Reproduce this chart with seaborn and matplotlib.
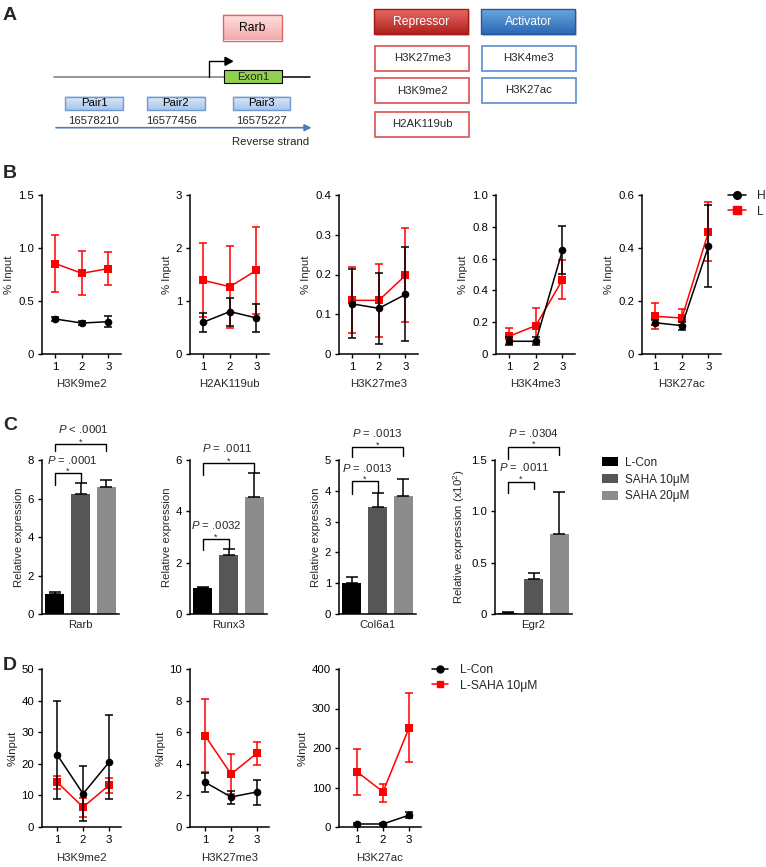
import matplotlib
matplotlib.use("Agg")
import matplotlib.pyplot as plt
import numpy as np
import pandas as pd
import seaborn as sns
from matplotlib.patches import Rectangle, Patch, Polygon
from matplotlib.lines import Line2D
from matplotlib.colors import LinearSegmentedColormap

# ---------------- data ----------------
REGIONS = [1, 2, 3]

B_MARKS = ["H3K9me2", "H2AK119ub", "H3K27me3", "H3K4me3", "H3K27ac"]
B_GROUPS = ["H", "L"]
B_H_MEAN = [[0.330, 0.292, 0.305], [0.60, 0.80, 0.68], [0.126, 0.115, 0.150],
            [0.080, 0.080, 0.653], [0.118, 0.107, 0.407]]
B_H_LOW = [[0.314, 0.270, 0.254], [0.41, 0.53, 0.41], [0.041, 0.025, 0.032],
           [0.055, 0.055, 0.505], [0.108, 0.090, 0.254]]
B_H_HIGH = [[0.346, 0.310, 0.355], [0.78, 1.05, 0.95], [0.215, 0.203, 0.269],
            [0.105, 0.105, 0.806], [0.130, 0.120, 0.562]]
B_L_MEAN = [[0.853, 0.761, 0.806], [1.39, 1.27, 1.58], [0.135, 0.135, 0.198],
            [0.112, 0.179, 0.467], [0.142, 0.136, 0.461]]
B_L_LOW = [[0.584, 0.552, 0.650], [0.70, 0.50, 0.75], [0.052, 0.042, 0.080],
           [0.062, 0.070, 0.347], [0.095, 0.108, 0.352]]
B_L_HIGH = [[1.120, 0.970, 0.964], [2.09, 2.04, 2.39], [0.218, 0.227, 0.316],
            [0.162, 0.288, 0.589], [0.193, 0.168, 0.572]]
B_YTICKS = [[0, 0.5, 1.0, 1.5], [0, 1, 2, 3], [0, 0.1, 0.2, 0.3, 0.4],
            [0, 0.2, 0.4, 0.6, 0.8, 1.0], [0, 0.2, 0.4, 0.6]]
B_YTICKLABELS = [["0", "0.5", "1.0", "1.5"], ["0", "1", "2", "3"],
                 ["0", "0.1", "0.2", "0.3", "0.4"],
                 ["0", "0.2", "0.4", "0.6", "0.8", "1.0"], ["0", "0.2", "0.4", "0.6"]]

C_GENES = ["Rarb", "Runx3", "Col6a1", "Egr2"]
C_GROUPS = ["L-Con", "SAHA 10μM", "SAHA 20μM"]
C_MEAN = [[1.03, 6.25, 6.61], [1.02, 2.30, 4.56], [1.01, 3.49, 3.82], [0.01, 0.34, 0.78]]
C_SD = [[0.12, 0.57, 0.33], [0.04, 0.24, 0.95], [0.20, 0.45, 0.56], [0.005, 0.06, 0.41]]
C_YTICKS = [[0, 2, 4, 6, 8], [0, 2, 4, 6], [0, 1, 2, 3, 4, 5], [0, 0.5, 1.0, 1.5]]
C_YTICKLABELS = [["0", "2", "4", "6", "8"], ["0", "2", "4", "6"],
                 ["0", "1", "2", "3", "4", "5"], ["0", "0.5", "1.0", "1.5"]]
C_YLABELS = ["Relative expression", "Relative expression", "Relative expression",
             "Relative expression (x10$^2$)"]
C_P_INNER = ["= .0001", "= .0032", "= .0013", "= .0011"]
C_P_OUTER = ["< .0001", "= .0011", "= .0013", "= .0304"]

D_MARKS = ["H3K9me2", "H3K27me3", "H3K27ac"]
D_GROUPS = ["L-Con", "L-SAHA 10μM"]
D_CON_MEAN = [[22.9, 10.5, 20.5], [2.83, 1.90, 2.22], [7.6, 7.6, 30.0]]
D_CON_LOW = [[8.9, 1.8, 8.9], [2.22, 1.48, 1.41], [5.0, 5.0, 23.0]]
D_CON_HIGH = [[40.0, 19.2, 35.3], [3.42, 2.30, 2.95], [10.0, 10.0, 39.0]]
D_SAHA_MEAN = [[14.2, 6.3, 13.2], [5.78, 3.35, 4.68], [140, 89, 251]]
D_SAHA_LOW = [[12.0, 3.2, 10.8], [3.46, 2.06, 3.95], [80, 63, 165]]
D_SAHA_HIGH = [[16.2, 9.2, 15.5], [8.10, 4.64, 5.38], [198, 110, 340]]
D_YTICKS = [[0, 10, 20, 30, 40, 50], [0, 2, 4, 6, 8, 10], [0, 100, 200, 300, 400]]

A_PAIRS = ["Pair1", "Pair2", "Pair3"]
A_COORDS = ["16578210", "16577456", "16575227"]
A_REPRESSORS = ["H3K27me3", "H3K9me2", "H2AK119ub"]
A_ACTIVATORS = ["H3K4me3", "H3K27ac"]

# ---------------- style ----------------
sns.set_theme(style="ticks")
plt.rcParams["font.family"] = ["Liberation Sans", "DejaVu Sans"]
plt.rcParams["mathtext.fontset"] = "custom"
plt.rcParams["mathtext.rm"] = "Liberation Sans"
plt.rcParams["mathtext.it"] = "Liberation Sans:italic"
plt.rcParams["axes.linewidth"] = 1.1
plt.rcParams["xtick.major.width"] = 1.0
plt.rcParams["ytick.major.width"] = 1.0
plt.rcParams["xtick.major.size"] = 3.2
plt.rcParams["ytick.major.size"] = 3.2
plt.rcParams["xtick.color"] = "black"
plt.rcParams["ytick.color"] = "black"
plt.rcParams["axes.edgecolor"] = "black"

FS = 8.2
W, H = 766, 867
fig = plt.figure(figsize=(W / 100, H / 100), dpi=100)


def add_ax(x0, y0, x1, y1):
    return fig.add_axes([x0 / W, 1 - y1 / H, (x1 - x0) / W, (y1 - y0) / H])


def style_ax(ax):
    sns.despine(ax=ax)
    ax.tick_params(labelsize=FS, pad=2.5, colors="black")
    ax.grid(False)


RED = "#ff0000"


def line_panel(ax, xs, series, colors, markers):
    rows = []
    for name, (mean, lo, hi) in series.items():
        for x, m in zip(xs, mean):
            rows.append({"region": x, "value": m, "group": name})
    df = pd.DataFrame(rows)
    sns.lineplot(data=df, x="region", y="value", hue="group", style="group",
                 markers=markers, dashes=False, palette=colors, markersize=5.5,
                 markeredgewidth=0, linewidth=1.1, ax=ax, legend=False, zorder=3)
    for name, (mean, lo, hi) in series.items():
        mean = np.array(mean); lo = np.array(lo); hi = np.array(hi)
        ax.errorbar(xs, mean, yerr=[mean - lo, hi - mean], fmt="none",
                    ecolor=colors[name], elinewidth=1.1, capsize=3.0, capthick=1.1,
                    zorder=4 if colors[name] == "black" else 2, clip_on=False)


# ---------------- panel B ----------------
B_LEFT = [42, 190, 339, 496, 642]
for k, mark in enumerate(B_MARKS):
    ax = add_ax(B_LEFT[k], 195, B_LEFT[k] + 79, 354)
    series = {"L": (B_L_MEAN[k], B_L_LOW[k], B_L_HIGH[k]),
              "H": (B_H_MEAN[k], B_H_LOW[k], B_H_HIGH[k])}
    line_panel(ax, REGIONS, series, {"H": "black", "L": RED}, {"H": "o", "L": "s"})
    ax.set_xlim(0.5, 3.47)
    ax.set_ylim(0, B_YTICKS[k][-1])
    ax.set_xticks(REGIONS)
    ax.set_xticklabels([str(r) for r in REGIONS])
    ax.set_yticks(B_YTICKS[k])
    ax.set_yticklabels(B_YTICKLABELS[k])
    ax.set_xlabel(mark, fontsize=FS, labelpad=5)
    ax.set_ylabel("% Input", fontsize=FS, labelpad=3)
    style_ax(ax)

fig.legend(handles=[Line2D([], [], color="black", marker="o", markersize=5.5, lw=1.1),
                    Line2D([], [], color=RED, marker="s", markersize=5.5, lw=1.1)],
           labels=B_GROUPS, loc="upper left", bbox_to_anchor=(728 / W, 1 - 190 / H),
           frameon=False, fontsize=FS + 0.5, handlelength=1.5, handletextpad=0.9,
           labelspacing=0.3, borderpad=0, borderaxespad=0)

# ---------------- panel C ----------------
C_LEFT = [42, 190, 339, 495]
C_COLORS = ["#000000", "#565656", "#8c8c8c"]
BR_INNER = [(7.32, 6.70, 6.85, 8.00, 0.66), (2.92, 2.49, 2.54, 3.46, 0.54),
            (4.31, 3.89, 3.93, 4.74, 0.59), (1.29, 1.18, 1.22, 1.43, 0.63)]
BR_OUTER = [(8.81, 8.45, 8.45, 9.59, 1.10), (5.87, 5.40, 5.50, 6.45, 0.96),
            (5.42, 5.10, 5.13, 5.88, 0.98), (1.63, 1.51, 1.55, 1.76, 0.98)]
for k, gene in enumerate(C_GENES):
    ax = add_ax(C_LEFT[k], 460, C_LEFT[k] + 77, 614)
    sns.barplot(x=C_GROUPS, y=C_MEAN[k], hue=C_GROUPS, palette=C_COLORS,
                width=0.73, legend=False, ax=ax, errorbar=None, saturation=1,
                linewidth=0)
    ax.errorbar(range(3), C_MEAN[k], yerr=[[0, 0, 0], C_SD[k]], fmt="none",
                ecolor="black", elinewidth=1.1, capsize=4, capthick=1.1, zorder=3)
    ax.set_xlim(-0.5, 2.5)
    ax.set_ylim(0, C_YTICKS[k][-1])
    ax.set_xticks([])
    ax.set_yticks(C_YTICKS[k])
    ax.set_yticklabels(C_YTICKLABELS[k])
    ax.set_xlabel(gene, fontsize=FS, labelpad=4)
    ax.set_ylabel(C_YLABELS[k], fontsize=FS, labelpad=3)
    style_ax(ax)
    for (y, lb, rb, ty, tx), j, ptxt in [(BR_INNER[k], 1, C_P_INNER[k]),
                                         (BR_OUTER[k], 2, C_P_OUTER[k])]:
        ax.plot([0, 0, j, j], [lb, y, y, rb], color="black", lw=1.0, clip_on=False)
        ax.annotate("*", (j / 2, y), xytext=(0, 1.5), textcoords="offset points",
                    ha="center", va="center", fontsize=6.5, annotation_clip=False)
        ax.text(tx, ty, r"$\it{P}$ " + ptxt, ha="center", va="center", fontsize=FS,
                clip_on=False)

fig.legend(handles=[Patch(facecolor=c, edgecolor="none") for c in C_COLORS],
           labels=C_GROUPS, loc="upper left", bbox_to_anchor=(602 / W, 1 - 457 / H),
           frameon=False, fontsize=FS + 0.3, handlelength=1.35, handleheight=0.8,
           handletextpad=0.6, labelspacing=0.4, borderpad=0, borderaxespad=0)

# ---------------- panel D ----------------
D_LEFT = [42, 190, 339]
D_RIGHT = [121, 269, 421]
D_XMIN = [0.42, 0.42, 0.31]
for k, mark in enumerate(D_MARKS):
    ax = add_ax(D_LEFT[k], 669, D_RIGHT[k], 827)
    series = {"L-SAHA 10μM": (D_SAHA_MEAN[k], D_SAHA_LOW[k], D_SAHA_HIGH[k]),
              "L-Con": (D_CON_MEAN[k], D_CON_LOW[k], D_CON_HIGH[k])}
    line_panel(ax, REGIONS, series, {"L-Con": "black", "L-SAHA 10μM": RED},
               {"L-Con": "o", "L-SAHA 10μM": "s"})
    ax.set_xlim(D_XMIN[k], 3.46)
    ax.set_ylim(0, D_YTICKS[k][-1])
    ax.set_xticks(REGIONS)
    ax.set_xticklabels([str(r) for r in REGIONS])
    ax.set_yticks(D_YTICKS[k])
    ax.set_yticklabels([str(t) for t in D_YTICKS[k]])
    ax.set_xlabel(mark, fontsize=FS, labelpad=6)
    ax.set_ylabel("%Input", fontsize=FS, labelpad=3)
    style_ax(ax)

fig.legend(handles=[Line2D([], [], color="black", marker="o", markersize=5, lw=1.1),
                    Line2D([], [], color=RED, marker="s", markersize=5, lw=1.1)],
           labels=D_GROUPS, loc="upper left", bbox_to_anchor=(432 / W, 1 - 664 / H),
           frameon=False, fontsize=FS + 0.5, handlelength=1.3, handletextpad=1.0,
           labelspacing=0.3, borderpad=0, borderaxespad=0)

# ---------------- panel A (schematic) + panel letters ----------------
ov = fig.add_axes([0, 0, 1, 1], zorder=10)
ov.set_axis_off()
ov.patch.set_alpha(0)


def grad_box(x0, y0, x1, y1, ctop, cbot, edge, lw=1.0, text=None, tcolor="black", fs=FS):
    cmap = LinearSegmentedColormap.from_list("g", [ctop, cbot])
    grad = np.linspace(0, 1, 64).reshape(-1, 1)
    ov.imshow(grad, cmap=cmap, extent=[x0, x1, y1, y0], aspect="auto", origin="upper",
              zorder=1, interpolation="bilinear")
    ov.add_patch(Rectangle((x0, y0), x1 - x0, y1 - y0, fill=False, edgecolor=edge,
                           lw=lw, zorder=2))
    if text:
        ov.text((x0 + x1) / 2, (y0 + y1) / 2, text, ha="center", va="center",
                fontsize=fs, color=tcolor, zorder=3)


# gene box
grad_box(223, 15, 282, 40.5, "#fde3e3", "#f4a9a9", "#e06666", text="Rarb", fs=FS + 0.5)
# gene line
ov.plot([53.5, 224], [76.7, 76.7], color="#7a7a7a", lw=1.1, zorder=1)
ov.plot([282, 309.5], [76.7, 76.7], color="black", lw=1.1, zorder=1)
# promoter arrow
ov.plot([209.4, 209.4, 226], [76.7, 61.3, 61.3], color="black", lw=1.0, zorder=2)
ov.add_patch(Polygon([[225, 57.3], [225, 65.3], [232.5, 61.3]], closed=True,
                     color="black", zorder=2))
# exon
ov.add_patch(Rectangle((223.8, 70), 58.4, 13.3, facecolor="#92d050", edgecolor="black",
                       lw=0.8, zorder=2))
ov.text(253, 76.9, "Exon1", ha="center", va="center", fontsize=FS, zorder=3)
# pairs
pair_x = [(65, 123.3), (147, 204.5), (232.7, 289.6)]
coord_x = [94, 171.8, 261]
for (x0, x1), lab in zip(pair_x, A_PAIRS):
    grad_box(x0, 96.7, x1, 110, "#dfeaf9", "#a8c4ec", "#6c9bd2", text=lab)
for cx, lab in zip(coord_x, A_COORDS):
    ov.text(cx, 121.5, lab, ha="center", va="center", fontsize=FS)
# strand arrow
ov.annotate("", xy=(311.5, 127.7), xytext=(56, 127.7),
            arrowprops=dict(arrowstyle="-|>", color="#4a7ebb", lw=1.2,
                            mutation_scale=10, shrinkA=0, shrinkB=0))
ov.text(309.5, 142.3, "Reverse strand", ha="right", va="center", fontsize=FS)
# repressor / activator
ov.add_patch(Rectangle((375.5, 11.3), 94, 25, facecolor="#888888", alpha=0.35,
                       edgecolor="none", zorder=0))
grad_box(373.8, 9.3, 467.8, 34.3, "#e66a66", "#b0201c", "#a01818", text="Repressor",
         tcolor="white", fs=FS + 0.5)
ov.add_patch(Rectangle((483, 11.3), 94, 25, facecolor="#888888", alpha=0.35,
                       edgecolor="none", zorder=0))
grad_box(481.2, 9.3, 575.2, 34.3, "#6aa6de", "#2a68b4", "#25589a", text="Activator",
         tcolor="white", fs=FS + 0.5)
rep_y = [(45.7, 70.7), (78.3, 103.3), (111.7, 136.7)]
for (y0, y1), lab in zip(rep_y, A_REPRESSORS):
    ov.add_patch(Rectangle((375.2, y0), 94, y1 - y0, facecolor="white",
                           edgecolor="#d9534f", lw=1.2, zorder=2))
    ov.text(422.2, (y0 + y1) / 2, lab, ha="center", va="center", fontsize=FS, zorder=3)
act_y = [(45.7, 71), (77.7, 102.7)]
for (y0, y1), lab in zip(act_y, A_ACTIVATORS):
    ov.add_patch(Rectangle((481.7, y0), 94, y1 - y0, facecolor="white",
                           edgecolor="#5b8fd0", lw=1.2, zorder=2))
    ov.text(528.7, (y0 + y1) / 2, lab, ha="center", va="center", fontsize=FS, zorder=3)

for letter, (lx, ly) in zip("ABCD", [(3, 15), (3, 174), (3, 426), (3, 666)]):
    ov.text(lx, ly, letter, ha="left", va="center", fontsize=14, fontweight="bold")

ov.set_xlim(0, W)
ov.set_ylim(H, 0)

fig.savefig("out.png", dpi=100)
